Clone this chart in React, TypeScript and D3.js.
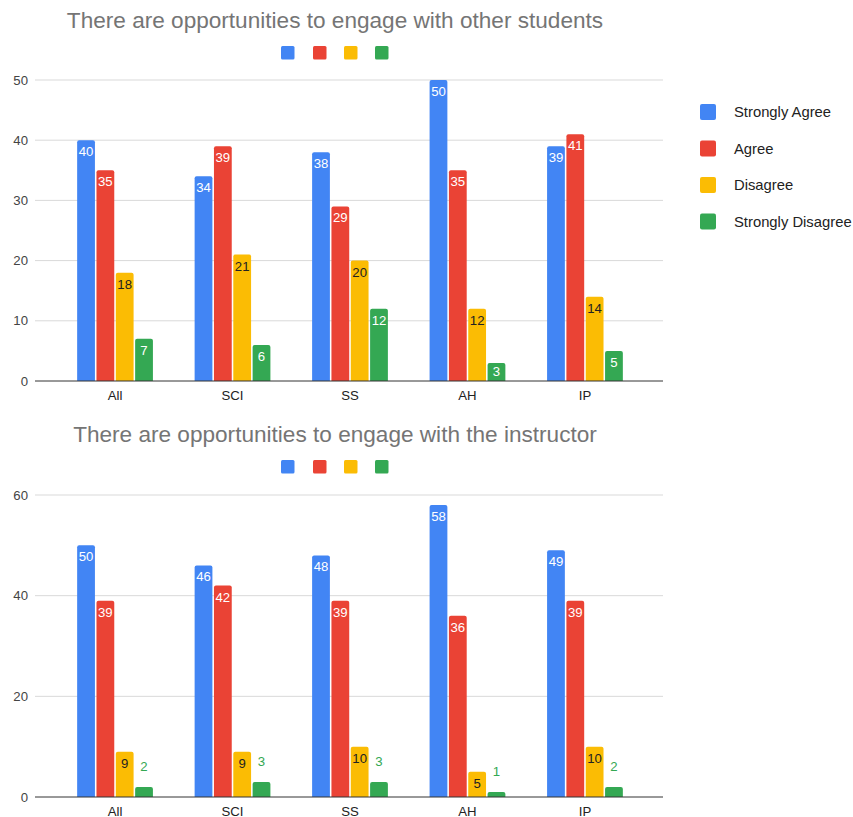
import React from "react";
import * as d3 from "d3";

const categories = ["All", "SCI", "SS", "AH", "IP"];
const seriesNames = ["Strongly Agree", "Agree", "Disagree", "Strongly Disagree"];
const colors = ["#4285F4", "#EA4335", "#FBBC04", "#34A853"];

const title1 = "There are opportunities to engage with other students";
const strongAgree1 = [40, 34, 38, 50, 39];
const agree1 = [35, 39, 29, 35, 41];
const disagree1 = [18, 21, 20, 12, 14];
const strongDisagree1 = [7, 6, 12, 3, 5];
const ticks1 = [0, 10, 20, 30, 40, 50];

const title2 = "There are opportunities to engage with the instructor";
const strongAgree2 = [50, 46, 48, 58, 49];
const agree2 = [39, 42, 39, 36, 39];
const disagree2 = [9, 9, 10, 5, 10];
const strongDisagree2 = [2, 3, 3, 1, 2];
const ticks2 = [0, 20, 40, 60];

const FONT = "'Liberation Sans', Arial, sans-serif";

type ChartProps = {
  title: string;
  series: number[][];
  ticks: number[];
  top: number;
  yTop: number;
  yBottom: number;
};

function Chart({ title, series, ticks, top, yTop, yBottom }: ChartProps) {
  const maxT = ticks[ticks.length - 1];
  const y = d3.scaleLinear().domain([0, maxT]).range([yBottom, yTop]);
  const x0 = d3.scaleBand<string>().domain(categories).range([56, 644]).paddingInner(0.355).paddingOuter(0.18);
  const x1 = d3
    .scaleBand<string>()
    .domain(seriesNames)
    .range([0, x0.bandwidth()])
    .paddingInner(0.08);
  const legendXs = [281, 313, 344, 375];
  return (
    <g>
      <text x={335} y={top} textAnchor="middle" dominantBaseline="central" fontSize={22.6} fill="#757575" fontFamily={FONT}>
        {title}
      </text>
      {seriesNames.map((s, i) => (
        <rect key={s} x={legendXs[i]} y={top + 26} width={13.5} height={13.5} rx={1.5} fill={colors[i]} />
      ))}
      {ticks.map((t) => (
        <g key={t}>
          {t !== 0 && <line x1={35} x2={663} y1={y(t)} y2={y(t)} stroke="#d9d9d9" strokeWidth={1} />}
          <text x={28} y={y(t)} textAnchor="end" dominantBaseline="central" fontSize={13.2} fill="#444" fontFamily={FONT}>
            {t}
          </text>
        </g>
      ))}
      {categories.map((c, ci) => (
        <g key={c}>
          {series.map((vals, si) => {
            const v = vals[ci];
            const bx = (x0(c) as number) + (x1(seriesNames[si]) as number);
            const bw = x1.bandwidth();
            const yt = y(v);
            const h = yBottom - yt;
            const r = Math.min(2, h / 2);
            const path = `M${bx},${yBottom} V${yt + r} Q${bx},${yt} ${bx + r},${yt} H${bx + bw - r} Q${bx + bw},${yt} ${bx + bw},${yt + r} V${yBottom} Z`;
            const inside = h >= 16.5;
            const labelColor = inside ? (si === 2 ? "#222" : "#fff") : colors[si];
            const ly = inside ? yt + Math.min(11.5, h / 2) : yt - 20;
            return (
              <g key={si}>
                <path d={path} fill={colors[si]} />
                <text x={bx + bw / 2} y={ly} textAnchor="middle" dominantBaseline="central" fontSize={13.2} fill={labelColor} fontFamily={FONT}>
                  {v}
                </text>
              </g>
            );
          })}
          <text x={(x0(c) as number) + x0.bandwidth() / 2} y={yBottom + 14} textAnchor="middle" dominantBaseline="central" fontSize={13.2} fill="#222" fontFamily={FONT}>
            {c}
          </text>
        </g>
      ))}
      <line x1={35} x2={663} y1={yBottom} y2={yBottom} stroke="#333" strokeWidth={1} />
    </g>
  );
}

export default function App() {
  return (
    <svg width={853} height={817} style={{ position: "absolute", left: 0, top: 0, background: "#fff" }}>
      <rect width={853} height={817} fill="#fff" />
      <Chart
        title={title1}
        series={[strongAgree1, agree1, disagree1, strongDisagree1]}
        ticks={ticks1}
        top={20}
        yTop={80}
        yBottom={381}
      />
      <Chart
        title={title2}
        series={[strongAgree2, agree2, disagree2, strongDisagree2]}
        ticks={ticks2}
        top={434}
        yTop={495}
        yBottom={797}
      />
      {seriesNames.map((s, i) => (
        <g key={s}>
          <rect x={700} y={104 + i * 36.5} width={16} height={16} rx={2} fill={colors[i]} />
          <text x={734} y={112 + i * 36.5} dominantBaseline="central" fontSize={14.8} fill="#222" fontFamily={FONT}>
            {s}
          </text>
        </g>
      ))}
    </svg>
  );
}
